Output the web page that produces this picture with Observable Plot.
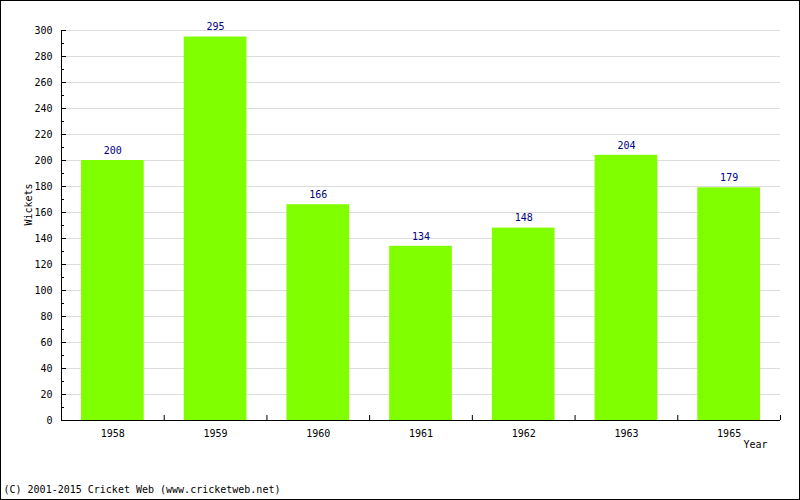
<!DOCTYPE html>
<html><head><meta charset="utf-8">
<script src="https://cdn.jsdelivr.net/npm/d3@7"></script>
<script src="https://cdn.jsdelivr.net/npm/@observablehq/plot@0.6"></script>
<style>
body{margin:0;background:#fff}
#chart svg{outline:1px solid #000;outline-offset:-1px;display:block}
</style>
</head><body><div id="chart"></div>
<script>
const years = ["1958","1959","1960","1961","1962","1963","1965"];
const wickets = [200, 295, 166, 134, 148, 204, 179];
const yTicks = d3.range(0, 301, 20);
const yMinor = d3.range(10, 300, 20);

const data = years.map((y, i) => ({year: y, i, value: wickets[i]}));
const W = 800, H = 500, mL = 61, mR = 20, mT = 30, mB = 80;
const fw = W - mL - mR, fh = H - mT - mB;

const chart = Plot.plot({
  width: W, height: H,
  marginLeft: mL, marginRight: mR, marginTop: mT, marginBottom: mB,
  style: {fontFamily: "DejaVu Sans Mono", fontSize: "10px", background: "#fff", color: "#000"},
  x: {domain: [0, years.length], axis: null},
  y: {domain: [0, 300], axis: null},
  marks: [
    Plot.gridY(yTicks.filter(d => d > 0), {stroke: "#dcdcdc", strokeOpacity: 1}),
    Plot.rectY(data, {x1: d => d.i, x2: d => d.i + 1, y: "value", fill: "#80ff00", insetLeft: 20, insetRight: 20}),
    Plot.text(data, {x: d => d.i + 0.5, y: "value", text: d => String(d.value), dy: -10, fill: "#000080"}),
    Plot.axisY({ticks: yTicks, tickSize: 0, tickPadding: 9, label: null, fontSize: 10}),
    Plot.ruleY(yTicks, {stroke: "#000", insetRight: fw - 5}),
    Plot.ruleY(yMinor, {stroke: "#000", insetRight: fw - 3}),
    Plot.axisX({ticks: d3.range(years.length).map(i => i + 0.5), tickFormat: v => years[Math.floor(v)], tickSize: 0, tickPadding: 9, label: null}),
    Plot.ruleX(d3.range(years.length + 1), {stroke: "#000", insetTop: fh - 5}),
    Plot.ruleX([0], {stroke: "#000"}),
    Plot.ruleY([0], {stroke: "#000"}),
    Plot.text(["Wickets"], {frameAnchor: "left", dx: -33, rotate: -90, text: d => d}),
    Plot.text(["Year"], {frameAnchor: "bottom-right", dx: -13, dy: 27, text: d => d}),
    Plot.text(["(C) 2001-2015 Cricket Web (www.cricketweb.net)"], {frameAnchor: "bottom-left", dx: -58, dy: 72, textAnchor: "start", text: d => d})
  ]
});
document.getElementById("chart").appendChild(chart);
</script>
</body></html>
